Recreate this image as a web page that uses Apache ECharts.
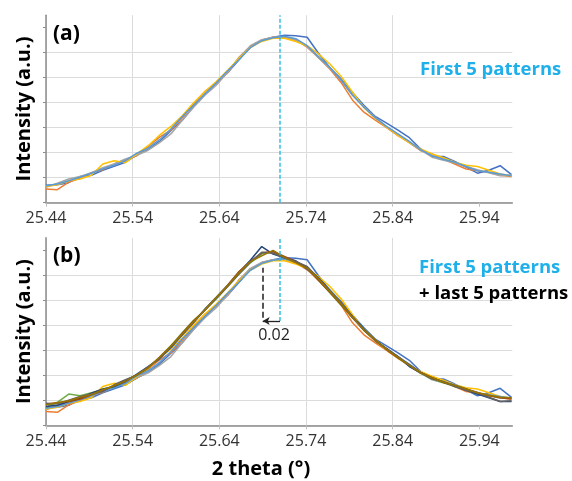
<!DOCTYPE html>
<html><head><meta charset="utf-8">
<script src="https://cdn.jsdelivr.net/npm/echarts@6/dist/echarts.min.js"></script>
<style>html,body{margin:0;padding:0;background:#fff}#c{width:572px;height:481px}</style>
</head><body><div id="c"></div>
<script>
// 2 theta positions (degrees)
const twoTheta = [25.4400,25.4531,25.4662,25.4793,25.4924,25.5055,25.5186,25.5317,25.5448,25.5579,
  25.5710,25.5841,25.5972,25.6103,25.6234,25.6365,25.6496,25.6627,25.6758,25.6889,
  25.7020,25.7151,25.7282,25.7413,25.7544,25.7675,25.7806,25.7937,25.8068,25.8199,
  25.8330,25.8461,25.8592,25.8723,25.8854,25.8985,25.9116,25.9247,25.9378,25.9509,
  25.9640,25.9771];
const xTickLabels = ['25.44','25.54','25.64','25.74','25.84','25.94'];

// First 5 patterns
const first1 = [0.70,0.72,0.80,1.05,1.10,1.30,1.46,1.62,1.90,2.12,2.45,2.88,3.30,3.85,4.35,4.78,5.20,5.72,6.25,6.50,6.62,6.70,6.68,6.62,5.98,5.40,4.95,4.40,3.90,3.45,3.18,2.90,2.60,2.15,1.85,1.85,1.65,1.42,1.18,1.30,1.48,1.12];
const first2 = [0.55,0.52,0.82,0.98,1.20,1.32,1.55,1.72,1.88,2.25,2.62,2.90,3.40,3.95,4.45,4.78,5.20,5.82,6.25,6.50,6.62,6.63,6.50,6.22,5.80,5.35,4.80,4.10,3.62,3.30,3.00,2.68,2.40,2.08,1.95,1.75,1.55,1.35,1.28,1.22,1.10,1.05];
const first3 = [0.62,0.78,0.95,1.05,1.20,1.40,1.55,1.75,1.90,2.10,2.40,2.75,3.30,3.82,4.30,4.70,5.22,5.80,6.28,6.52,6.62,6.64,6.52,6.25,5.80,5.38,4.90,4.30,3.85,3.42,3.02,2.72,2.40,2.10,1.82,1.70,1.60,1.45,1.32,1.20,1.08,1.10];
const first4 = [0.65,0.72,0.88,0.95,1.10,1.55,1.68,1.60,1.95,2.28,2.70,3.05,3.48,4.00,4.45,4.85,5.30,5.78,6.20,6.45,6.58,6.58,6.45,6.28,5.95,5.55,5.05,4.42,3.80,3.38,3.02,2.70,2.40,2.15,1.95,1.80,1.62,1.50,1.45,1.30,1.15,1.08];
const first5 = [0.68,0.75,0.88,1.02,1.18,1.35,1.50,1.68,1.98,2.18,2.52,2.95,3.45,3.90,4.35,4.80,5.28,5.72,6.20,6.48,6.60,6.66,6.56,6.28,5.85,5.42,4.90,4.30,3.82,3.40,3.05,2.75,2.45,2.12,1.88,1.74,1.62,1.45,1.28,1.22,1.15,1.08];
// Last 5 patterns
const last1 = [0.72,0.92,1.25,1.18,1.30,1.42,1.55,1.80,2.00,2.30,2.72,3.18,3.70,4.20,4.60,5.05,5.55,6.05,6.50,6.85,6.95,6.70,6.55,6.32,5.80,5.30,4.80,4.30,3.85,3.42,3.05,2.70,2.38,2.08,1.85,1.70,1.55,1.42,1.25,1.18,1.12,1.08];
const last2 = [0.75,0.80,0.95,1.08,1.28,1.45,1.55,1.75,2.05,2.35,2.68,3.10,3.62,4.12,4.65,5.12,5.60,6.12,6.60,7.15,6.85,6.70,6.58,6.25,5.90,5.38,4.88,4.35,3.85,3.38,3.08,2.75,2.35,2.10,1.90,1.72,1.58,1.40,1.25,1.10,0.95,0.95];
const last3 = [0.85,0.90,0.95,1.05,1.22,1.38,1.60,1.80,2.02,2.30,2.72,3.15,3.68,4.18,4.60,5.10,5.60,6.15,6.55,6.90,6.95,6.75,6.55,6.30,5.80,5.32,4.82,4.30,3.80,3.42,3.02,2.70,2.42,2.12,1.90,1.72,1.58,1.45,1.30,1.18,1.10,1.05];
const last4 = [0.88,0.85,1.00,1.15,1.25,1.35,1.62,1.82,2.00,2.35,2.65,3.12,3.60,4.10,4.62,5.08,5.55,6.05,6.52,6.92,6.88,6.70,6.55,6.35,5.88,5.38,4.90,4.32,3.80,3.38,3.05,2.75,2.42,2.10,1.85,1.75,1.55,1.40,1.30,1.12,0.95,0.98];
const last5 = [0.82,0.90,0.98,1.12,1.22,1.42,1.58,1.76,2.02,2.30,2.72,3.18,3.65,4.15,4.62,5.12,5.58,6.10,6.55,6.78,7.00,6.72,6.50,6.28,5.85,5.35,4.85,4.32,3.82,3.40,3.05,2.72,2.40,2.10,1.90,1.72,1.60,1.45,1.30,1.20,1.12,1.10];

// Annotations
const peakFirst = 25.71;      // cyan dashed line
const peakLast = 25.69;       // black dashed line
const arrowLevel = 4.17;
const guideRange = [4.3, 6.3];
const shiftLabel = '0.02';

const firstSets = [first1, first2, first3, first4, first5];
const lastSets = [last1, last2, last3, last4, last5];
const firstColors = ['#4472C4','#ED7D31','#A5A5A5','#FFC000','#5B9BD5'];
const lastColors = ['#70AD47','#264478','#9E480E','#636363','#997300'];

const X0 = 25.44, XMAX = 0.538, YMAX = 7.5;
const CYAN = '#35BDE3';
const FONT = '"Open Sans", "Liberation Sans", sans-serif';

function toData(arr){ return twoTheta.map((x,i)=>[+(x - X0).toFixed(4), arr[i]]); }

function xAxisCfg(gi){
  return {
    type:'value', gridIndex:gi, min:0, max:XMAX, interval:0.1,
    axisLine:{show:true, lineStyle:{color:'#8c8c8c', width:1.5}},
    axisTick:{show:true, length:4, lineStyle:{color:'#bfbfbf'}, customValues: xTickLabels.map(t=>+(+t - X0).toFixed(2))},
    axisLabel:{show:true, margin:8, color:'#333', fontFamily:FONT, fontSize:16,
      customValues: xTickLabels.map(t=>+(+t - X0).toFixed(2)),
      formatter:(v)=>(X0+v).toFixed(2)},
    splitLine:{show:true, showMaxLine:false, lineStyle:{color:'#dcdcdc', width:1}}
  };
}
function yAxisCfg(gi){
  return {
    type:'value', gridIndex:gi, min:0, max:YMAX, interval:1,
    name:'Intensity (a.u.)', nameLocation:'middle', nameGap:12, nameRotate:90,
    nameTextStyle:{fontFamily:FONT, fontSize:20, fontWeight:'bold', color:'#000'},
    axisLine:{show:true, lineStyle:{color:'#8c8c8c', width:1.5}},
    axisTick:{show:true, length:3, inside:false, lineStyle:{color:'#8c8c8c'}, customValues:[0,1,2,3,4,5,6,7]},
    axisLabel:{show:false},
    splitLine:{show:true, showMaxLine:false, lineStyle:{color:'#dcdcdc', width:1}}
  };
}

const series = [];
firstSets.forEach((arr,k)=>{
  series.push({type:'line', xAxisIndex:0, yAxisIndex:0, data:toData(arr), showSymbol:false,
    lineStyle:{color:firstColors[k], width:1.5}, itemStyle:{color:firstColors[k]}, z:3});
});
firstSets.forEach((arr,k)=>{
  series.push({type:'line', xAxisIndex:1, yAxisIndex:1, data:toData(arr), showSymbol:false,
    lineStyle:{color:firstColors[k], width:1.5}, itemStyle:{color:firstColors[k]}, z:3});
});
lastSets.forEach((arr,k)=>{
  series.push({type:'line', xAxisIndex:1, yAxisIndex:1, data:toData(arr), showSymbol:false,
    lineStyle:{color:lastColors[k], width:1.5}, itemStyle:{color:lastColors[k]}, z:3});
});

const px1 = +(peakFirst - X0).toFixed(4), px2 = +(peakLast - X0).toFixed(4);
// top cyan line
series[0].markLine = {silent:true, animation:false, symbol:['none','none'], label:{show:false},
  lineStyle:{color:CYAN, type:[4,2], width:1.5},
  data:[[{coord:[px1,0]},{coord:[px1,YMAX]}]]};
// bottom annotations
series[5].markLine = {silent:true, animation:false, symbol:['none','none'], label:{show:false},
  lineStyle:{color:CYAN, type:[4,2], width:1.5},
  data:[
    [{coord:[px1,arrowLevel]},{coord:[px1,YMAX]}],
    [{coord:[px2,guideRange[0]], lineStyle:{color:'#555', type:[6,3], width:2}},{coord:[px2,guideRange[1]]}],
    [{coord:[px1,arrowLevel], symbol:'none', lineStyle:{color:'#222', type:'solid', width:1.3}},
     {coord:[px2,arrowLevel], symbol:'arrow', symbolSize:[6,7]}]
  ]};

const chart = echarts.init(document.getElementById('c'), null, {renderer:'canvas'});
chart.setOption({
  animation:false,
  backgroundColor:'#fff',
  grid:[
    {left:46, width:466.3, top:15.2, height:187.5, containLabel:false},
    {left:46, width:466.3, top:237.8, height:187.5, containLabel:false}
  ],
  xAxis:[xAxisCfg(0), xAxisCfg(1)],
  yAxis:[yAxisCfg(0), yAxisCfg(1)],
  series:series,
  graphic:[
    {type:'text', x:53, y:34, z:10, style:{text:'(a)', font:'bold 21px '+FONT, fill:'#000', verticalAlign:'middle'}},
    {type:'text', x:53, y:256, z:10, style:{text:'(b)', font:'bold 21px '+FONT, fill:'#000', verticalAlign:'middle'}},
    {type:'text', x:420, y:70, z:10, style:{text:'First 5 patterns', font:'bold 18.5px '+FONT, fill:'#1FB0EA', verticalAlign:'middle'}},
    {type:'text', x:419, y:268, z:10, style:{text:'First 5 patterns', font:'bold 18.5px '+FONT, fill:'#1FB0EA', verticalAlign:'middle'}},
    {type:'text', x:419, y:294, z:10, style:{text:'+ last 5 patterns', font:'bold 18.5px '+FONT, fill:'#000', verticalAlign:'middle'}},
    {type:'text', x:261, y:469, z:10, style:{text:'2 theta (°)', font:'bold 20px '+FONT, fill:'#000', align:'center', verticalAlign:'middle'}},
    {type:'text', x:274, y:335, z:10, style:{text:shiftLabel, font:'16px '+FONT, fill:'#222', align:'center', verticalAlign:'middle'}}
  ]
});
</script></body></html>
